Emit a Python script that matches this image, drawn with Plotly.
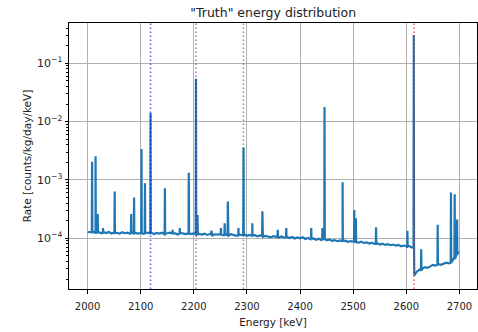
import plotly.graph_objects as go

# ---- continuum (5 keV steps), units of 1e-5 counts/kg/day/keV ----
cont_e_lo = list(range(2000, 2611, 5))
cont_r_lo = [
    12.8, 12.5, 13.1, 12.4, 12.9, 12.2, 12.7, 12.3, 12.8, 12.1, 12.6, 12.4, 12.0, 12.7, 12.2, 12.5, 11.9, 12.6, 12.3, 12.0,
    12.4, 11.9, 12.5, 12.1, 12.6, 11.8, 12.3, 12.0, 12.4, 11.7, 12.2, 12.5, 11.9, 12.1, 11.6, 12.3, 12.0, 11.8, 12.2, 11.9,
    12.1, 11.5, 11.9, 11.6, 12.0, 11.4, 11.8, 11.2, 11.7, 11.5, 11.9, 11.3, 11.6, 11.1, 11.7, 11.4, 11.0, 11.5, 11.2, 11.6,
    11.0, 11.4, 10.9, 11.3, 10.8, 11.2, 10.6, 11.0, 10.7, 10.4, 10.9, 10.5, 10.2, 10.7, 10.3, 10.6, 10.1, 10.5, 9.9, 10.3,
    10.0, 10.4, 9.7, 10.1, 9.6, 9.9, 9.4, 9.8, 9.3, 9.6, 9.2, 9.5, 9.0, 9.3, 8.9, 9.2, 8.8, 9.1, 8.7, 8.9,
    8.6, 8.9, 8.4, 8.7, 8.3, 8.5, 8.1, 8.4, 8.0, 8.2, 7.8, 8.1, 7.7, 7.9, 7.6, 7.8, 7.5, 7.7, 7.3, 7.5,
    7.2, 7.4, 7.0,
]
cont_e_hi = [2615, 2620, 2625, 2630, 2635, 2640, 2645, 2650, 2655, 2660, 2665, 2670, 2675, 2680, 2685, 2690, 2695, 2698]
cont_r_hi = [2.3, 2.7, 2.9, 3.0, 3.2, 3.1, 3.3, 3.5, 3.4, 3.6, 3.5, 3.7, 3.8, 3.7, 3.9, 4.6, 5.5, 6.0]

# ---- gamma lines: energy (keV), peak rate, local continuum rate (1e-5) ----
peak_e = [2008.5, 2015, 2019, 2029, 2051, 2082, 2087.5, 2101.5, 2108, 2118.5, 2145.5, 2160, 2173.5,
          2190.5, 2204, 2207, 2233, 2251, 2258, 2264, 2284, 2293.5, 2310, 2329, 2358, 2374, 2421,
          2442, 2446, 2480, 2502, 2505, 2543, 2602, 2614, 2628, 2659, 2684, 2691, 2695.5]
peak_h = [2.05e-3, 2.55e-3, 2.6e-4, 1.5e-4, 6.3e-4, 2.6e-4, 5.0e-4, 3.4e-3, 8.8e-4, 1.4e-2, 7.2e-4, 1.4e-4, 1.5e-4,
          1.33e-3, 5.4e-2, 2.5e-4, 1.35e-4, 1.5e-4, 1.8e-4, 4.25e-4, 1.5e-4, 3.6e-3, 1.8e-4, 2.9e-4, 1.4e-4, 1.5e-4, 1.5e-4,
          1.5e-4, 1.77e-2, 9.1e-4, 3.05e-4, 2.2e-4, 1.55e-4, 1.35e-4, 0.305, 6.5e-5, 1.7e-4, 6.1e-4, 5.7e-4, 2.1e-4]
peak_base = [12.6, 12.4, 12.5, 12.3, 12.3, 12.2, 12.1, 12.3, 12.1, 12.2, 12.0, 12.1, 12.0,
             12.0, 11.7, 11.7, 11.6, 11.5, 11.4, 11.3, 11.2, 11.3, 11.1, 11.0, 10.5, 10.3, 9.8,
             9.7, 9.7, 9.0, 8.7, 8.6, 8.0, 7.2, 7.0, 2.8, 3.5, 3.8, 4.4, 5.2]

# vertical marker lines
mark_e = [2118.5, 2204.1, 2293.4, 2614.5]
mark_c = ["rgba(0,0,255,0.65)", "rgba(128,0,128,0.6)", "rgba(0,128,0,0.6)", "rgba(255,0,0,0.65)"]

x_ticks = [2000, 2100, 2200, 2300, 2400, 2500, 2600, 2700]
y_ticks = [1e-4, 1e-3, 1e-2, 1e-1]
y_tick_text = ["10<sup>\u22124</sup>", "10<sup>\u22123</sup>", "10<sup>\u22122</sup>", "10<sup>\u22121</sup>"]

pts = [(e, r * 1e-5) for e, r in zip(cont_e_lo + cont_e_hi, cont_r_lo + cont_r_hi)]
for e, h, b in zip(peak_e, peak_h, peak_base):
    pts += [(e - 0.5, b * 1e-5), (e, h), (e + 0.5, b * 1e-5)]
pts.sort(key=lambda p: p[0])
xs = [p[0] for p in pts]
ys = [p[1] for p in pts]

font = "DejaVu Sans"
fig = go.Figure()
fig.add_trace(go.Scatter(x=xs, y=ys, mode="lines",
                         line=dict(color="#1f77b4", width=2.2), showlegend=False))

for e, c in zip(mark_e, mark_c):
    fig.add_shape(type="line", xref="x", yref="paper", x0=e, x1=e, y0=0, y1=1,
                  line=dict(color=c, width=1.5, dash="1.5px,2.5px"))

minor_vals = [m * 10.0 ** k for k in range(-5, 0) for m in range(2, 10)]

fig.update_layout(
    width=478, height=332,
    margin=dict(l=69, r=1, t=23, b=43),
    paper_bgcolor="white", plot_bgcolor="white",
    font=dict(family=font, size=10, color="#222"),
    title=dict(text='"Truth" energy distribution', x=0.5715, xanchor="center",
               y=0.963, yanchor="middle", font=dict(family=font, size=12.5, color="#222")),
    xaxis=dict(range=[1965, 2733], tickvals=x_ticks, ticks="outside", ticklen=3.5,
               tickcolor="black", showline=True, linecolor="black", linewidth=1, mirror=True,
               showgrid=True, gridcolor="#b0b0b0", gridwidth=0.8, zeroline=False,
               ticklabelstandoff=4,
               title=dict(text="Energy [keV]", standoff=8, font=dict(size=10.5)),
               tickfont=dict(size=10)),
    yaxis=dict(type="log", range=[-4.87, -0.31], tickmode="array", tickvals=y_ticks,
               ticktext=y_tick_text,
               ticks="outside", ticklen=3.5, tickcolor="black", showline=True,
               linecolor="black", linewidth=1, mirror=True, showgrid=True,
               gridcolor="#b0b0b0", gridwidth=0.8, zeroline=False,
               minor=dict(tickmode="array", tickvals=minor_vals, ticks="outside", ticklen=2,
                          tickcolor="black", showgrid=False),
               title=dict(text="Rate [counts/kg/day/keV]", standoff=3, font=dict(size=10.5)),
               tickfont=dict(size=11)),
)

fig.write_html("out.html")
